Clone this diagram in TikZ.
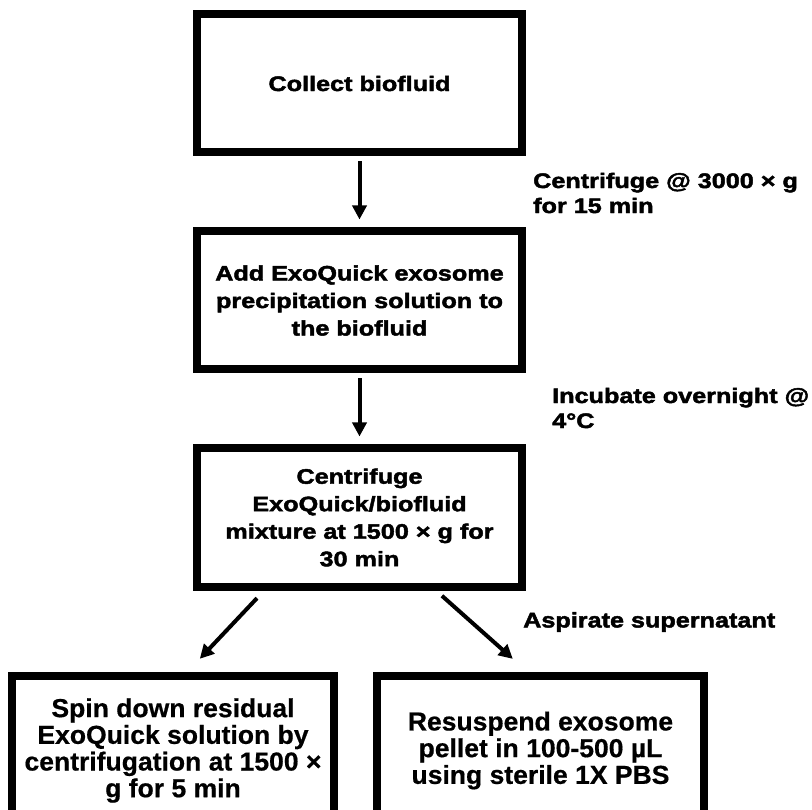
\documentclass[tikz,border=0pt]{standalone}
\usepackage{fontspec}
\setmainfont{Liberation Sans}
\newfontfamily\heavyfont[FakeBold=2.2,FakeStretch=1.2]{Liberation Sans Bold}
\newfontfamily\narrowheavy[FakeBold=0.6,FakeStretch=1.02]{Liberation Sans Bold}
\usepackage{tikz}
\usetikzlibrary{arrows.meta, positioning}

\begin{document}
\begin{tikzpicture}[
			x=1pt, y=-1pt,
			node distance=79pt,
			box/.style={rectangle, draw=black, line width=8pt, outer sep=0pt,
				minimum width=325pt, minimum height=138pt, align=center,
				font=\heavyfont\fontsize{21}{27.5}\selectfont},
			lowbox/.style={box, minimum height=150pt,
				font=\narrowheavy\fontsize{26}{26.7}\selectfont},
			note/.style={anchor=west, align=left, inner sep=0pt,
				font=\heavyfont\fontsize{21}{25}\selectfont},
			line/.style={-{Triangle[length=14pt, width=14pt]}, line width=4pt, color=black}
			]
			\useasboundingbox (0,0) rectangle (812,810);
			\node[box] (collect) at (359.5,83.5) {Collect biofluid};
			\node[box, below=of collect] (add) {Add ExoQuick exosome\\precipitation solution to\\the biofluid};
			\node[box, below=of add] (spin) {Centrifuge\\ExoQuick/biofluid\\mixture at 1500 × g for\\30 min};
			\node[lowbox, minimum width=322pt, below=89pt of spin, xshift=-186.5pt] (residual) {Spin down residual\\ExoQuick solution by\\centrifugation at 1500 ×\\g for 5 min};
			\node[lowbox, minimum width=327pt, below=89pt of spin, xshift=181pt] (resuspend) {Resuspend exosome\\pellet in 100-500 µL\\using sterile 1X PBS};
			
			\node[note] (spinnote) at (533,193) {Centrifuge @ 3000 × g\\for 15 min};
			\node[note] (incnote) at (552,408) {Incubate overnight @\\4°C};
			\node[note] (aspnote) at (523,622) {Aspirate supernatant};
			
			\draw[line, shorten <=9pt, shorten >=12pt] (collect) -- (add);
			\draw[line, shorten <=9pt, shorten >=12pt] (add) -- (spin);
			\draw[line, shorten <=16pt, shorten >=23pt] ([xshift=-91.5pt]spin.south) -- ([xshift=11pt]residual.north);
			\draw[line, shorten <=14pt, shorten >=25pt] ([xshift=72pt]spin.south) -- ([xshift=-9pt]resuspend.north);
		\end{tikzpicture}
\end{document}
